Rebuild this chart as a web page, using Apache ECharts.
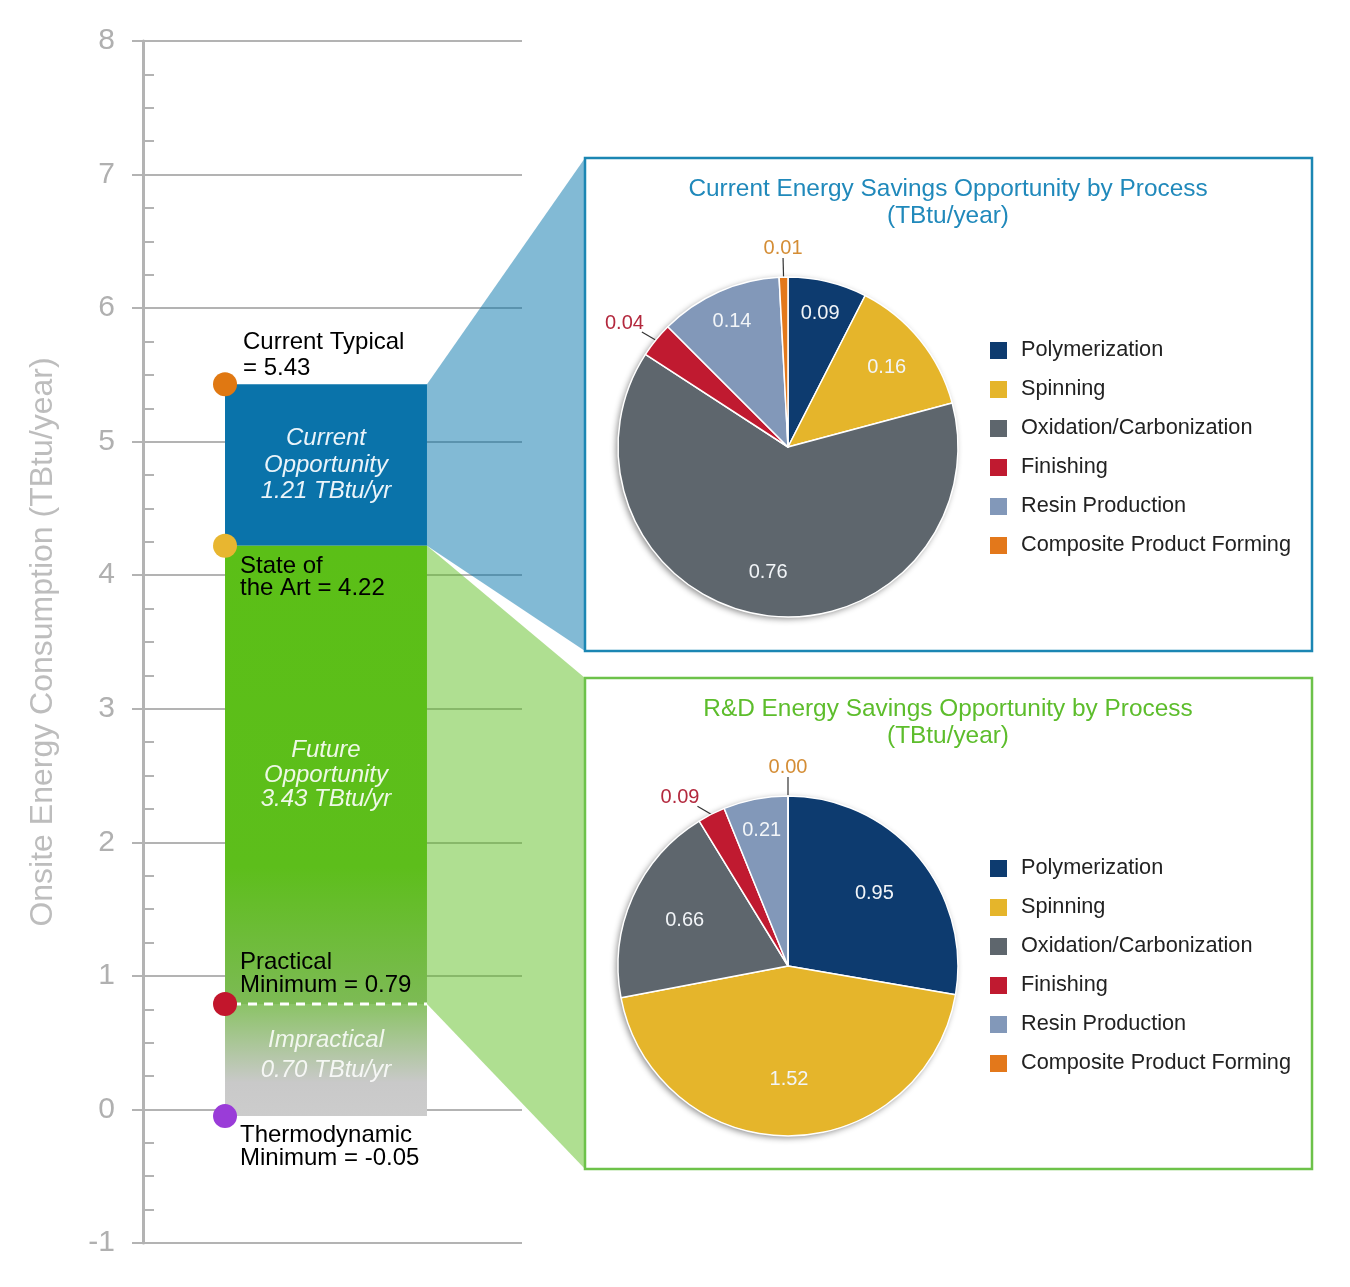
<!DOCTYPE html>
<html><head><meta charset="utf-8">
<script src="https://cdn.jsdelivr.net/npm/echarts@6/dist/echarts.min.js"></script>
<style>html,body{margin:0;padding:0;background:#fff}#c{width:1350px;height:1287px}</style>
</head><body><div id="c"></div>
<script>
// ---------- data ----------
const yRange = [-1, 8];
const levelLabels = ['Current Typical\n= ', 'State of\nthe Art = ', 'Practical\nMinimum = ', 'Thermodynamic\nMinimum = '];
const levelValues = [5.43, 4.22, 0.79, -0.05];
const bandNames = ['Current\nOpportunity', 'Future\nOpportunity', 'Impractical'];
const bandValues = [1.21, 3.43, 0.70];
const processes = ['Polymerization', 'Spinning', 'Oxidation/Carbonization', 'Finishing', 'Resin Production', 'Composite Product Forming'];
const currentSavings = [0.09, 0.16, 0.76, 0.04, 0.14, 0.01];
const rdSavings = [0.95, 1.52, 0.66, 0.09, 0.21, 0.00];
const pieTitles = ['Current Energy Savings Opportunity by Process\n(TBtu/year)', 'R&D Energy Savings Opportunity by Process\n(TBtu/year)'];

// ---------- styles ----------
const FONT = '"Liberation Sans", Arial, sans-serif';
const AX = '#b3b3b3';
const processColors = ['#0d3b6f', '#e5b52b', '#5e666d', '#c01a30', '#8298b9', '#e3781b'];
const outsideTextColors = ['#0d3b6f', '#c9a030', '#5e666d', '#b3283d', '#8298b9', '#d48d35'];
const dotColors = ['#e07812', '#e8b630', '#c2162c', '#9a3cd8'];
const BAR_X0 = 0.2164, BAR_X1 = 0.7493;
const PIE_R = 170;
const G = echarts.graphic;
const bandStyles = [
  { fill: '#0a73aa', text: '#eaf4fa', lh: 26.5, dy: 0 },
  { fill: new G.LinearGradient(0, 0, 0, 1, [{ offset: 0, color: '#5bbf17' }, { offset: 0.7, color: '#5dbe1b' }, { offset: 1, color: '#7dba55' }]), text: '#eef8e6', lh: 24.5, dy: 0 },
  { fill: new G.LinearGradient(0, 0, 0, 1, [{ offset: 0, color: '#8bc366' }, { offset: 0.7, color: '#c9c9c9' }, { offset: 1, color: '#cccccc' }]), text: 'rgba(255,255,255,0.85)', lh: 30, dy: -5 }
];
// label placement relative to each level dot: [dx, dy, verticalAlign, lineHeight]
const levelLabelStyle = [
  [30, 9, 'bottom', 26],
  [27, 22, 'top', 22],
  [27, 5, 'bottom', 23],
  [27, 20, 'top', 23]
];

const chart = echarts.init(document.getElementById('c'), null, { renderer: 'canvas' });

function pieSeries(values, center, innerLabelR0) {
  const total = values.reduce((a, b) => a + b, 0);
  const isOutside = v => v / total < 0.05;
  return [
    { // shadow base
      type: 'pie', silent: true, radius: PIE_R, center, z: 1,
      label: { show: false }, labelLine: { show: false },
      data: [{ value: 1, name: '__bg' }],
      itemStyle: { color: '#fff', shadowBlur: 6, shadowOffsetX: -2, shadowOffsetY: 2, shadowColor: 'rgba(0,0,0,0.45)' }
    },
    {
      type: 'pie', silent: true, radius: PIE_R, center, z: 2, avoidLabelOverlap: false, startAngle: 90,
      itemStyle: { borderColor: '#fff', borderWidth: 1.5 },
      label: { show: false, fontFamily: FONT, fontSize: 20, formatter: p => p.value.toFixed(2) },
      labelLine: { show: true, length: 10, length2: 6, lineStyle: { color: '#333', width: 1.2 } },
      labelLayout: function (params) {
        const pts = params.labelLinePoints;
        if (!pts) return {};
        if (params.dataIndex === 5) {
          return { x: pts[1][0], y: pts[1][1], align: 'center', verticalAlign: 'bottom', labelLinePoints: [pts[0], pts[1], pts[1]] };
        }
        const p0 = pts[0];
        const sx = pts[1][0] < p0[0] ? -1 : 1;
        const inner = [p0[0] - sx * 10, p0[1] + 6];
        const end = [p0[0] + sx * 14, p0[1] - 8];
        return { x: end[0] - sx * 2, y: end[1] + 1, align: sx < 0 ? 'right' : 'left', verticalAlign: 'bottom', labelLinePoints: [inner, end, end] };
      },
      data: processes.map((n, i) => ({
        name: n, value: values[i],
        itemStyle: { color: processColors[i] },
        label: { show: isOutside(values[i]), color: outsideTextColors[i] },
        labelLine: { show: isOutside(values[i]), length: i === 5 ? 19 : 10, length2: 6 }
      }))
    },
    { // inner labels
      type: 'pie', silent: true, radius: [innerLabelR0, PIE_R], center, z: 3, avoidLabelOverlap: false, startAngle: 90,
      itemStyle: { color: 'rgba(0,0,0,0)', borderWidth: 0 },
      label: { position: 'inside', color: '#f2f5f8', fontFamily: FONT, fontSize: 20, formatter: p => p.value.toFixed(2) },
      labelLine: { show: false },
      labelLayout: function (params) {
        const v = values[params.dataIndex];
        if (v / total >= 0.12 || !params.labelRect) return {};
        const r = params.labelRect;
        const lx = r.x + r.width / 2 - center[0], ly = r.y + r.height / 2 - center[1];
        const d = Math.sqrt(lx * lx + ly * ly) || 1;
        const k = 0.81 * PIE_R / d;
        return { x: center[0] + lx * k, y: center[1] + ly * k, align: 'center', verticalAlign: 'middle' };
      },
      data: processes.map((n, i) => ({ name: n, value: values[i], label: { show: !isOutside(values[i]) } }))
    }
  ];
}

function mkLegend(top) {
  return {
    orient: 'vertical', left: 988, top, padding: 0, itemWidth: 19, itemHeight: 19, itemGap: 17, icon: 'rect', selectedMode: false,
    data: processes.map((n, i) => ({ name: n, itemStyle: { color: processColors[i] } })),
    textStyle: { fontSize: 21.7, color: '#222', fontFamily: FONT, padding: [0, 0, 0, 8] }
  };
}

const option = {
  animation: false,
  backgroundColor: '#fff',
  grid: { left: 143, right: 828, top: 41, bottom: 44, outerBoundsMode: 'none' },
  xAxis: { type: 'value', min: 0, max: 1, show: false },
  yAxis: [
    {
      type: 'value', min: yRange[0], max: yRange[1], interval: 1,
      name: 'Onsite Energy Consumption (TBtu/year)', nameLocation: 'middle', nameGap: 84,
      nameTextStyle: { color: '#bdbdbd', fontSize: 32, fontFamily: FONT },
      axisLine: { show: true, lineStyle: { color: AX, width: 3 } },
      axisTick: { show: true, length: 11, lineStyle: { color: AX, width: 2 } },
      axisLabel: { color: '#b0b0b0', fontSize: 30, fontFamily: FONT, margin: 28 },
      splitLine: { show: true, lineStyle: { color: AX, width: 2 } }
    },
    {
      type: 'value', min: yRange[0], max: yRange[1], interval: 1, position: 'left', offset: 0,
      axisLine: { show: false }, axisLabel: { show: false }, splitLine: { show: false },
      axisTick: { show: false, inside: true },
      minorTick: { show: true, splitNumber: 4, length: 11, lineStyle: { color: AX, width: 2 } }
    }
  ],
  legend: [mkLegend(339.5), mkLegend(857.5)],
  series: [
    {
      type: 'custom', z: 3, clip: false,
      data: bandValues.map((v, i) => [levelValues[i], levelValues[i + 1], i]),
      encode: { y: [0, 1] },
      renderItem: function (params, api) {
        const i = api.value(2);
        const a = api.coord([BAR_X0, api.value(0)]);
        const b = api.coord([BAR_X1, api.value(1)]);
        const st = bandStyles[i];
        const children = [
          { type: 'rect', shape: { x: a[0], y: a[1], width: b[0] - a[0], height: b[1] - a[1] }, style: { fill: st.fill } },
          { type: 'text', z2: 5, style: { text: bandNames[i] + '\n' + bandValues[i].toFixed(2) + ' TBtu/yr', x: (a[0] + b[0]) / 2, y: (a[1] + b[1]) / 2 + st.dy, align: 'center', verticalAlign: 'middle', fontSize: 24, fontStyle: 'italic', fontFamily: FONT, fill: st.text, lineHeight: st.lh } }
        ];
        if (i === 2) children.push({ type: 'line', z2: 6, shape: { x1: a[0] + 7, y1: a[1], x2: b[0], y2: a[1] }, style: { stroke: '#fff', lineWidth: 3, lineDash: [9, 7] } });
        return { type: 'group', children };
      }
    },
    {
      type: 'scatter', z: 5, symbolSize: 24, silent: true,
      data: levelValues.map((v, i) => ({
        value: [BAR_X0, v],
        itemStyle: { color: dotColors[i], opacity: 1 },
        label: { position: [levelLabelStyle[i][0], levelLabelStyle[i][1]], verticalAlign: levelLabelStyle[i][2], lineHeight: levelLabelStyle[i][3] }
      })),
      label: {
        show: true, align: 'left', color: '#000', fontSize: 24, fontFamily: FONT,
        formatter: p => levelLabels[p.dataIndex] + p.value[1].toFixed(2)
      }
    },
    ...pieSeries(currentSavings, [788, 447], 78),
    ...pieSeries(rdSavings, [788, 966], 50)
  ]
};
chart.setOption(option);

const py = v => chart.convertToPixel({ yAxisIndex: 0 }, v);
const bx = chart.convertToPixel({ xAxisIndex: 0 }, BAR_X1);
const boxes = [
  { x: 585, y: 158, w: 727, h: 493, stroke: '#1b86b3', title: '#2089bb', fill: 'rgba(0,114,170,0.49)', from: levelValues[0], to: levelValues[1] },
  { x: 585, y: 678, w: 727, h: 491, stroke: '#6dc24a', title: '#5dbd2c', fill: 'rgba(92,190,30,0.49)', from: levelValues[1], to: levelValues[2] }
];
const graphic = [];
boxes.forEach((b, k) => {
  graphic.push({ type: 'polygon', z: 1, silent: true, shape: { points: [[bx, py(b.from)], [b.x, b.y], [b.x, b.y + b.h], [bx, py(b.to)]] }, style: { fill: b.fill } });
  graphic.push({ type: 'rect', z: 1, silent: true, shape: { x: b.x, y: b.y, width: b.w, height: b.h }, style: { fill: 'none', stroke: b.stroke, lineWidth: 2.5 } });
  graphic.push({ type: 'text', z: 4, silent: true, x: 948, y: b.y + 45, style: { text: pieTitles[k], align: 'center', verticalAlign: 'middle', fontSize: 24.4, fontFamily: FONT, fill: b.title, lineHeight: 27 } });
});
chart.setOption({ graphic });
</script></body></html>
